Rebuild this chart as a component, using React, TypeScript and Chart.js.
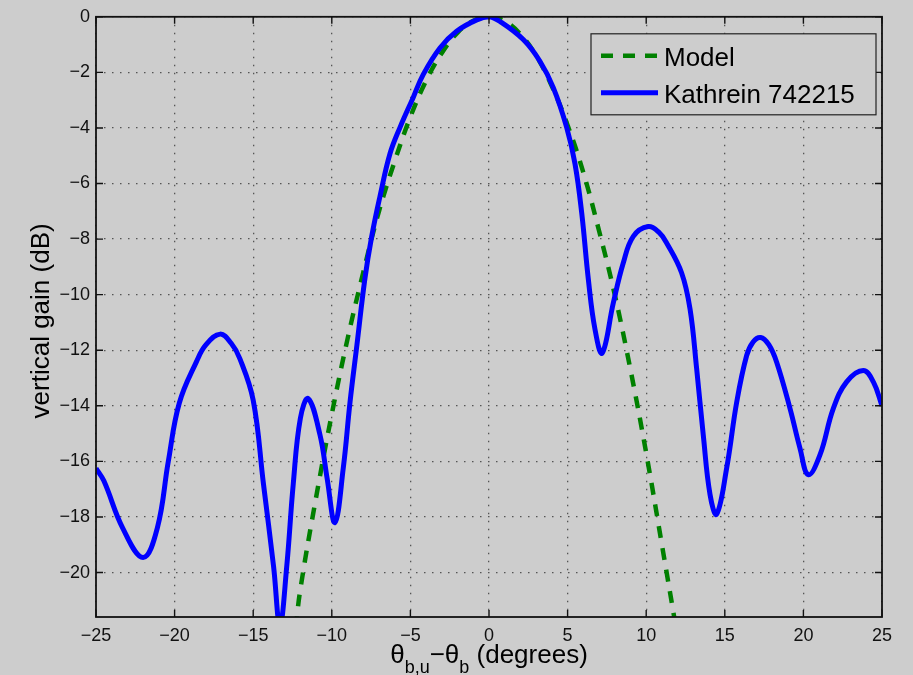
import React, { useEffect, useRef } from "react";
import { Chart, registerables } from "chart.js";

Chart.register(...registerables);

// ---- Data ----
const kathreinTheta = [
  -25, -24.5, -23.3, -22.0, -21.1, -20.4, -19.7, -18.6, -18.0, -17.1, -16.4, -15.85, -15.0,
  -14.35, -13.7, -13.3, -12.87, -12.45, -12.0, -11.5, -10.75, -10.3, -9.8,
  -9.27, -8.84, -8.4, -7.9, -7.46, -6.93, -6.3, -5.66, -4.82, -4.18, -3.12,
  -2.06, -0.78, 0, 0.7, 2.18, 3.24, 4.09, 4.94, 5.47, 5.9, 6.32, 6.74, 7.2,
  7.91, 8.54, 9.18, 10.13, 10.8, 11.3, 12.25, 12.79, 13.21, 13.63, 14.06, 14.48,
  15.12, 15.76, 16.39, 16.8, 17.28, 17.8, 18.3, 19.15, 19.78, 20.31, 21.06, 21.9, 22.75,
  23.81, 24.45, 25,
];
const kathreinGain = [
  -16.25, -16.7, -18.4, -19.46, -18.4, -16.0, -13.9, -12.4, -11.8, -11.42, -11.75, -12.3, -13.8,
  -16.8, -19.8, -21.9, -19.8, -16.8, -14.45, -13.74, -15.05, -16.6, -18.2,
  -16.24, -13.86, -11.8, -9.45, -7.9, -6.45, -4.93, -3.98, -2.9, -2.07, -1.12,
  -0.52, -0.11, 0, -0.17, -0.82, -1.6, -2.55, -3.98, -5.29, -7.07, -9.45, -11.24, -12.1,
  -10.29, -8.86, -7.9, -7.55, -7.75, -8.14, -9.21, -10.52, -12.67, -15.05, -17.19, -17.9,
  -16.24, -13.86, -12.19, -11.7, -11.54, -11.8, -12.43, -14.1, -15.52, -16.48, -15.76, -14.1, -13.14,
  -12.73, -13.14, -14.0,
];
const modelTheta = [
  -12.3, -12, -11, -10, -9, -8, -7, -6, -5, -4, -3, -2, -1, 0,
  1, 2, 3, 4, 5, 6, 7, 8, 9, 10, 11, 11.9,
];
const modelGain = [
  -22.0, -20.6, -17.3, -14.3, -11.6, -9.2, -7.0, -5.2, -3.6, -2.3, -1.3, -0.57, -0.14, 0,
  -0.16, -0.63, -1.4, -2.5, -3.9, -5.6, -7.7, -10.0, -12.7, -15.7, -19.0, -22.0,
];
const seriesLabels = ["Model", "Kathrein 742215"];
const xTickValues = [-25, -20, -15, -10, -5, 0, 5, 10, 15, 20, 25];
const yTickValues = [0, -2, -4, -6, -8, -10, -12, -14, -16, -18, -20];
const xRange = [-25, 25];
const yRange = [-21.6, 0];
const yTitle = "vertical gain (dB)";
const xTitleParts = [
  { text: "\u03b8", sub: false },
  { text: "b,u", sub: true },
  { text: "\u2212\u03b8", sub: false },
  { text: "b", sub: true },
  { text: " (degrees)", sub: false },
];

const FONT = "'Liberation Sans', Arial, Helvetica, sans-serif";
const BG = "#cdcdcd";
const fmt = (v: number) => (v < 0 ? "\u2212" + Math.abs(v) : String(v));

const decorPlugin = {
  id: "decor",
  afterDraw(chart: any) {
    const ctx: CanvasRenderingContext2D = chart.ctx;
    const a = chart.chartArea;
    const xs = chart.scales.x;
    const ys = chart.scales.y;
    ctx.save();

    // inward tick marks on all four sides
    const tl = 7;
    ctx.strokeStyle = "#111";
    ctx.lineWidth = 1.4;
    ctx.beginPath();
    for (const v of xTickValues) {
      const px = xs.getPixelForValue(v);
      ctx.moveTo(px, a.bottom);
      ctx.lineTo(px, a.bottom - tl);
      ctx.moveTo(px, a.top);
      ctx.lineTo(px, a.top + tl);
    }
    for (const v of yTickValues) {
      const py = ys.getPixelForValue(v);
      ctx.moveTo(a.left, py);
      ctx.lineTo(a.left + tl, py);
      ctx.moveTo(a.right, py);
      ctx.lineTo(a.right - tl, py);
    }
    ctx.stroke();

    // axes box
    ctx.lineWidth = 1.8;
    ctx.strokeRect(a.left, a.top, a.right - a.left, a.bottom - a.top);

    // legend
    const lx = a.right - 291;
    const ly = a.top + 17;
    const lw = 285;
    const lh = 81;
    ctx.fillStyle = BG;
    ctx.fillRect(lx, ly, lw, lh);
    ctx.lineWidth = 1.2;
    ctx.strokeStyle = "#222";
    ctx.strokeRect(lx, ly, lw, lh);
    const ds = chart.data.datasets;
    const rows = [ly + 22, ly + 59];
    seriesLabels.forEach((label, i) => {
      const d = ds[i];
      const y = rows[i];
      ctx.save();
      ctx.strokeStyle = d.borderColor;
      ctx.lineWidth = d.borderWidth;
      ctx.lineCap = "butt";
      ctx.setLineDash(d.borderDash || []);
      ctx.beginPath();
      ctx.moveTo(lx + 10, y);
      ctx.lineTo(lx + 67, y);
      ctx.stroke();
      ctx.restore();
      ctx.fillStyle = "#000";
      ctx.font = `26px ${FONT}`;
      ctx.textAlign = "left";
      ctx.textBaseline = "alphabetic";
      ctx.fillText(label, lx + 73, y + 10);
    });

    // y-axis title
    ctx.save();
    ctx.translate(49, (a.top + a.bottom) / 2 + 4);
    ctx.rotate(-Math.PI / 2);
    ctx.fillStyle = "#000";
    ctx.font = `26px ${FONT}`;
    ctx.textAlign = "center";
    ctx.textBaseline = "alphabetic";
    ctx.fillText(yTitle, 0, 0);
    ctx.restore();

    // x-axis title with subscripts
    const mainFont = `26px ${FONT}`;
    const subFont = `18px ${FONT}`;
    let total = 0;
    for (const p of xTitleParts) {
      ctx.font = p.sub ? subFont : mainFont;
      total += ctx.measureText(p.text).width;
    }
    let cx = (a.left + a.right) / 2 - total / 2;
    const base = a.bottom + 46;
    ctx.fillStyle = "#000";
    ctx.textAlign = "left";
    ctx.textBaseline = "alphabetic";
    for (const p of xTitleParts) {
      ctx.font = p.sub ? subFont : mainFont;
      ctx.fillText(p.text, cx, p.sub ? base + 10 : base);
      cx += ctx.measureText(p.text).width;
    }
    ctx.restore();
  },
};

export default function App() {
  const canvasRef = useRef<HTMLCanvasElement | null>(null);

  useEffect(() => {
    if (!canvasRef.current) return;
    const chart = new Chart(canvasRef.current, {
      type: "line",
      data: {
        datasets: [
          {
            label: seriesLabels[0],
            data: modelTheta.map((x, i) => ({ x, y: modelGain[i] })),
            borderColor: "#008000",
            borderWidth: 4.5,
            borderDash: [12, 10],
            borderCapStyle: "butt",
            pointRadius: 0,
            fill: false,
            tension: 0.4,
            clip: 0,
            order: 1,
          },
          {
            label: seriesLabels[1],
            data: kathreinTheta.map((x, i) => ({ x, y: kathreinGain[i] })),
            borderColor: "#0000ff",
            borderWidth: 5,
            borderJoinStyle: "round",
            pointRadius: 0,
            fill: false,
            tension: 0.4,
            clip: 0,
            order: 0,
          },
        ],
      },
      options: {
        responsive: false,
        animation: false,
        devicePixelRatio: 1,
        layout: { padding: { top: 12, right: 31, bottom: 0, left: 0 } },
        plugins: {
          legend: { display: false },
          tooltip: { enabled: false },
          title: { display: false },
        },
        scales: {
          x: {
            type: "linear",
            min: xRange[0],
            max: xRange[1],
            afterFit: (s: any) => {
              s.height = 58;
            },
            afterBuildTicks: (s: any) => {
              s.ticks = xTickValues.map((v) => ({ value: v }));
            },
            ticks: {
              padding: 8,
              color: "#111",
              font: { family: FONT, size: 18 },
              maxRotation: 0,
              autoSkip: false,
              callback: (v: any) => fmt(Number(v)),
            },
            grid: {
              color: "#555",
              lineWidth: 1.3,
              drawTicks: false,
            },
            border: { display: false, dash: [1.5, 6.5] },
          },
          y: {
            type: "linear",
            min: yRange[0],
            max: yRange[1],
            afterFit: (s: any) => {
              s.width = 96;
            },
            afterBuildTicks: (s: any) => {
              s.ticks = yTickValues.map((v) => ({ value: v }));
            },
            ticks: {
              padding: 6,
              color: "#111",
              font: { family: FONT, size: 18 },
              autoSkip: false,
              callback: (v: any) => fmt(Number(v)),
            },
            grid: {
              color: "#555",
              lineWidth: 1.3,
              drawTicks: false,
            },
            border: { display: false, dash: [1.5, 6.5] },
          },
        },
      },
      plugins: [decorPlugin],
    } as any);
    return () => chart.destroy();
  }, []);

  return (
    <div
      style={{
        position: "absolute",
        left: 0,
        top: 0,
        width: 913,
        height: 675,
        background: BG,
        overflow: "hidden",
      }}
    >
      <canvas ref={canvasRef} width={913} height={675} style={{ display: "block" }} />
    </div>
  );
}
